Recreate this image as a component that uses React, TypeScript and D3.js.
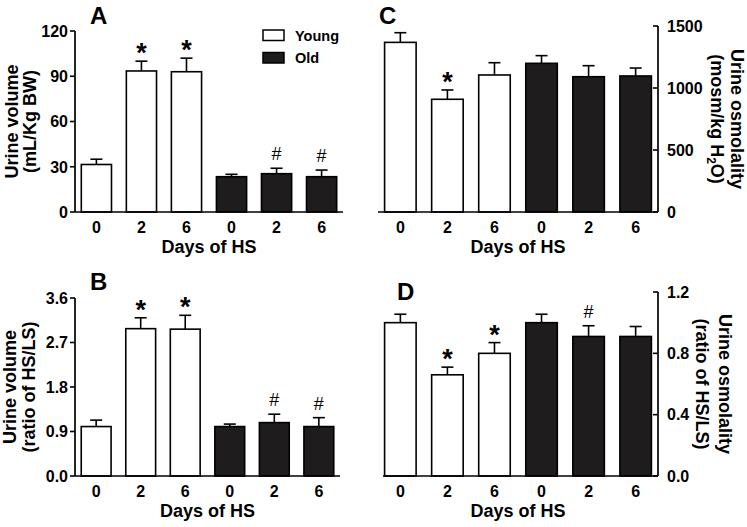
import * as d3 from "d3";

// x categories (days of high-salt diet) and age groups
const days = ["0", "2", "6", "0", "2", "6"];
const groups = ["Young", "Young", "Young", "Old", "Old", "Old"];

// A: urine volume (mL/Kg BW)
const volumeMean = [31.5, 93.5, 93, 23.4, 25.4, 23.4];
const volumeSem = [3.5, 6.5, 9, 1.6, 3.6, 4.4];
const volumeMarks = ["", "*", "*", "", "#", "#"];
const volumeTicks = [0, 30, 60, 90, 120];

// B: urine volume ratio HS/LS
const volumeRatioMean = [1.0, 2.98, 2.97, 1.0, 1.08, 1.0];
const volumeRatioSem = [0.13, 0.22, 0.28, 0.05, 0.17, 0.18];
const volumeRatioMarks = ["", "*", "*", "", "#", "#"];
const volumeRatioTicks = [0, 0.9, 1.8, 2.7, 3.6];

// C: urine osmolality (mosm/kg H2O)
const osmMean = [1368, 909, 1105, 1199, 1091, 1097];
const osmSem = [78, 75, 99, 62, 89, 64];
const osmMarks = ["", "*", "", "", "", ""];
const osmTicks = [0, 500, 1000, 1500];

// D: urine osmolality ratio HS/LS
const osmRatioMean = [1.0, 0.66, 0.8, 1.0, 0.91, 0.91];
const osmRatioSem = [0.055, 0.05, 0.07, 0.055, 0.07, 0.065];
const osmRatioMarks = ["", "*", "*", "", "#", ""];
const osmRatioTicks = [0, 0.4, 0.8, 1.2];

const FONT = "'Liberation Sans', Arial, Helvetica, sans-serif";
const DARK = "#1e1c1d";

interface PanelProps {
  letter: string;
  letterX: number;
  letterY: number;
  x0: number;
  x1: number;
  baseStart?: number;
  yTop: number;
  yBottom: number;
  max: number;
  ticks: number[];
  fmt: (v: number) => string;
  mean: number[];
  sem: number[];
  marks: string[];
  side: "left" | "right";
  label1: string;
  label2: React.ReactNode;
  labelX1: number;
  labelX2: number;
}

const Panel = (p: PanelProps) => {
  const idx = days.map((_, i) => String(i));
  const x = d3.scaleBand().domain(idx).range([p.x0, p.x1]).paddingInner(0.33).paddingOuter(0.14);
  const y = d3.scaleLinear().domain([0, p.max]).range([p.yBottom, p.yTop]);
  const axisX = p.side === "left" ? p.x0 : p.x1;
  const midX = (p.x0 + p.x1) / 2;
  const midY = (p.yTop + p.yBottom) / 2;
  const bw = x.bandwidth();
  const rot = p.side === "left" ? -90 : 90;

  return (
    <g fontFamily={FONT}>
      <text x={p.letterX} y={p.letterY} fontSize={24} fontWeight="bold">{p.letter}</text>

      {/* bars with upper error bars */}
      {p.mean.map((m, i) => {
        const bx = x(String(i))!;
        const cx = bx + bw / 2;
        const top = y(m);
        const errTop = y(m + p.sem[i]);
        const old = groups[i] === "Old";
        return (
          <g key={i}>
            <line x1={cx} x2={cx} y1={top} y2={errTop} stroke="#000" strokeWidth={1.6} />
            <line x1={cx - 6} x2={cx + 6} y1={errTop} y2={errTop} stroke="#000" strokeWidth={1.6} />
            <rect x={bx} y={top} width={bw} height={p.yBottom - top}
              fill={old ? DARK : "#fff"} stroke="#000" strokeWidth={1.6} />
            {p.marks[i] === "*" && (
              <text x={cx} y={errTop + 1} textAnchor="middle" fontSize={27} fontWeight="bold">*</text>
            )}
            {p.marks[i] === "#" && (
              <text x={cx} y={errTop - 8} textAnchor="middle" fontSize={18}>#</text>
            )}
            <text x={cx} y={p.yBottom + 15} dy="0.36em" textAnchor="middle" fontSize={16} fontWeight="bold">
              {days[i]}
            </text>
          </g>
        );
      })}

      {/* axes */}
      <line x1={p.baseStart ?? p.x0} x2={p.x1} y1={p.yBottom} y2={p.yBottom} stroke="#000" strokeWidth={1.7} />
      <line x1={axisX} x2={axisX} y1={p.yTop} y2={p.yBottom} stroke="#000" strokeWidth={1.7} />
      {p.ticks.map((t) => (
        <g key={t}>
          <line x1={axisX} x2={axisX - 5} y1={y(t)} y2={y(t)} stroke="#000" strokeWidth={1.6} />
          <text
            x={p.side === "left" ? axisX - 7 : axisX + 9}
            y={y(t)}
            dy="0.36em"
            textAnchor={p.side === "left" ? "end" : "start"}
            fontSize={16}
            fontWeight="bold"
          >
            {p.fmt(t)}
          </text>
        </g>
      ))}

      <text x={midX} y={p.yBottom + 41} textAnchor="middle" fontSize={18} fontWeight="bold">Days of HS</text>

      {/* y label, two lines */}
      <text transform={`translate(${p.labelX1},${midY}) rotate(${rot})`} textAnchor="middle" fontSize={18} fontWeight="bold">{p.label1}</text>
      <text transform={`translate(${p.labelX2},${midY}) rotate(${rot})`} textAnchor="middle" fontSize={18} fontWeight="bold">{p.label2}</text>
    </g>
  );
};

const fmtInt = d3.format("d");
const fmt1 = d3.format(".1f");

export default function App() {
  return (
    <svg width={747} height={527} style={{ position: "absolute", left: 0, top: 0, background: "#fff" }}>
      <Panel letter="A" letterX={90} letterY={24} x0={75} x1={343} yTop={31} yBottom={212}
        max={120} ticks={volumeTicks} fmt={fmtInt} mean={volumeMean} sem={volumeSem} marks={volumeMarks}
        side="left" label1="Urine volume" label2="(mL/Kg BW)" labelX1={18} labelX2={36} />
      <Panel letter="B" letterX={90} letterY={290} x0={75} x1={340} yTop={298} yBottom={476}
        max={3.6} ticks={volumeRatioTicks} fmt={fmt1} mean={volumeRatioMean} sem={volumeRatioSem} marks={volumeRatioMarks}
        side="left" label1="Urine volume" label2="(ratio of HS/LS)" labelX1={16} labelX2={35} />
      <Panel letter="C" letterX={379} letterY={24} x0={378} x1={658} yTop={26} yBottom={212}
        max={1500} ticks={osmTicks} fmt={fmtInt} mean={osmMean} sem={osmSem} marks={osmMarks}
        side="right" label1="Urine osmolality"
        label2={<>(mosm/kg H<tspan dy="4" fontSize={12}>2</tspan><tspan dy="-4">O)</tspan></>}
        labelX1={731} labelX2={711} />
      <Panel letter="D" letterX={397} letterY={300} x0={378} x1={658} baseStart={383} yTop={292} yBottom={476}
        max={1.2} ticks={osmRatioTicks} fmt={fmt1} mean={osmRatioMean} sem={osmRatioSem} marks={osmRatioMarks}
        side="right" label1="Urine osmolality" label2="(ratio of HS/LS)" labelX1={719} labelX2={696} />

      {/* legend */}
      <g fontFamily={FONT}>
        {["Young", "Old"].map((g, i) => (
          <g key={g} transform={`translate(263,${30 + i * 22.5})`}>
            <rect width={21} height={10.5} fill={g === "Old" ? DARK : "#fff"} stroke="#000" strokeWidth={1.5} />
            <text x={32} y={5.5} dy="0.36em" fontSize={14.5} fontWeight="bold">{g}</text>
          </g>
        ))}
      </g>
    </svg>
  );
}
